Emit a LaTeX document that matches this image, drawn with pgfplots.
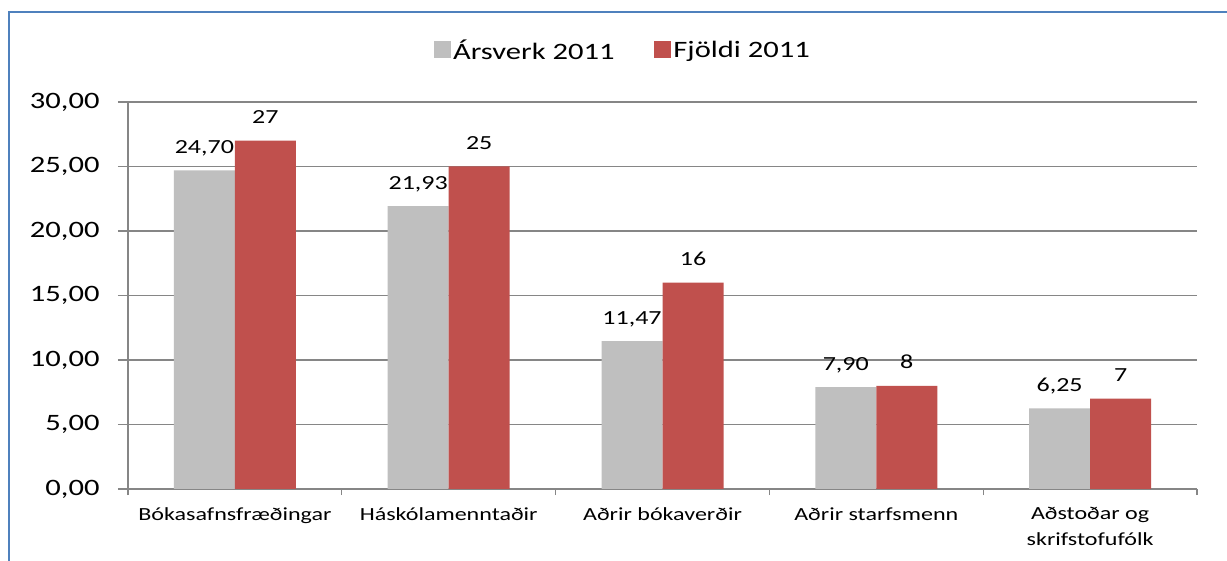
\documentclass[border=0pt]{standalone}
\usepackage{fontspec}
\setmainfont{Carlito}[FakeStretch=1.3]
\usepackage{pgfplots}
\pgfplotsset{compat=1.18}
\definecolor{barGray}{RGB}{191,191,191}
\definecolor{barRed}{RGB}{192,80,77}
\definecolor{gridGray}{RGB}{134,134,134}
\definecolor{frameBlue}{RGB}{79,129,189}
\begin{document}
\begin{tikzpicture}
\path[use as bounding box] (0,0) rectangle (1227bp,561bp);
\fill[white] (0,0) rectangle (1227bp,561bp);
\draw[frameBlue, line width=2bp] (8.5bp,0) -- (8.5bp,548.5bp) -- (1227bp,548.5bp);
\begin{axis}[
  at={(128bp,72bp)}, anchor=south west,
  scale only axis, width=1069bp, height=387bp,
  xmin=-0.5, xmax=4.5, ymin=0, ymax=30,
  ybar=0pt, bar width=61bp,
  axis x line*=bottom, axis y line*=left,
  axis line style={gridGray, line width=1.2bp},
  ytick={0,5,...,30},
  ymajorgrids, grid style={gridGray, line width=1.2bp},
  xtick={0,1,2,3,4},
  xticklabels={Bókasafnsfræðingar, Háskólamenntaðir, Aðrir bókaverðir, Aðrir starfsmenn, {Aðstoðar og\\skrifstofufólk}},
  xticklabel style={font=\fontsize{18.5bp}{26bp}\selectfont, align=center, text=black, yshift=-5bp},
  extra x ticks={-0.5,0.5,1.5,2.5,3.5,4.5},
  extra x tick labels={},
  extra x tick style={major tick length=6bp, major x tick style={draw=gridGray, line width=1.2bp}},
  tick align=outside,
  major tick length=10bp,
  tick style={gridGray, line width=1.2bp},
  major x tick style={draw=none},
  /pgf/number format/.cd, fixed, fixed zerofill, precision=2, use comma, assume math mode=true,
  /pgfplots/.cd,
  yticklabel style={font=\fontsize{23.5bp}{28bp}\selectfont, text=black, xshift=-15bp},
  point meta=explicit symbolic,
  nodes near coords,
  every node near coord/.append style={anchor=base, inner sep=0pt, yshift=17bp, font=\fontsize{20bp}{24bp}\selectfont, text=black},
  legend style={at={(0.463,1.134)}, anchor=center, draw=none, fill=none, legend columns=2,
    font=\fontsize{23.5bp}{28bp}\selectfont,
    /tikz/every even column/.append style={column sep=38bp}},
  legend image code/.code={\fill[#1] (-4bp,-8bp) rectangle (13bp,9bp);},
]
\addplot[fill=barGray, draw=none] coordinates {(0,24.70)[24,70] (1,21.93)[21,93] (2,11.47)[11,47] (3,7.90)[7,90] (4,6.25)[6,25]};
\addplot[fill=barRed, draw=none] coordinates {(0,27)[27] (1,25)[25] (2,16)[16] (3,8)[8] (4,7)[7]};
\legend{Ársverk 2011, Fjöldi 2011}
\end{axis}
\end{tikzpicture}
\end{document}
